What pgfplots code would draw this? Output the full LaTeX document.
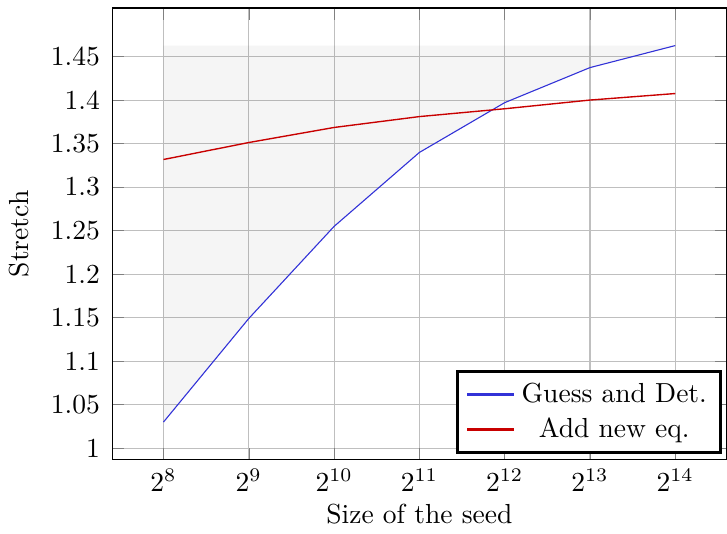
\documentclass[border=0pt]{standalone}
\usepackage{pgfplots}
\pgfplotsset{compat=1.18}
\definecolor{myblue}{RGB}{50,50,215}
\definecolor{myred}{RGB}{200,0,0}
\begin{document}
\begin{tikzpicture}
\begin{axis}[
  scale only axis,
  width=223pt, height=164pt,
  xmin=7.4, xmax=14.6,
  ymin=0.9868, ymax=1.5058,
  xtick={8,9,10,11,12,13,14},
  xticklabels={$2^{8}$,$2^{9}$,$2^{10}$,$2^{11}$,$2^{12}$,$2^{13}$,$2^{14}$},
  ytick={1,1.05,1.1,1.15,1.2,1.25,1.3,1.35,1.4,1.45},
  yticklabels={1,1.05,1.1,1.15,1.2,1.25,1.3,1.35,1.4,1.45},
  yticklabel style={xshift=-1pt},
  grid=major,
  xlabel={Size of the seed},
  xlabel style={yshift=2.5pt},
  ylabel={Stretch},
  ylabel style={yshift=1pt},
  legend cell align=center,
  legend style={at={(0.993,0.013)}, anchor=south east, draw=black, line width=1.1pt, font=\normalsize},
]
\addplot[draw=none, fill=black, fill opacity=0.04, forget plot] coordinates {
(8,1.4626) (14,1.4626) (14,1.4626) (13,1.4373) (12,1.397) (11,1.3398) (10,1.2548) (9,1.149) (8,1.030)} -- cycle;
\addplot[myblue, line width=0.4pt, legend image post style={line width=1.2pt}] coordinates {
(8,1.030) (9,1.149) (10,1.2548) (11,1.3398) (12,1.397) (13,1.4373) (14,1.4626)};
\addlegendentry{Guess and Det.}
\addplot[myred, line width=0.5pt, legend image post style={line width=1.2pt}] coordinates {
(8,1.3317) (9,1.3512) (10,1.3685) (11,1.381) (12,1.390) (13,1.400) (14,1.4075)};
\addlegendentry{Add new eq.}
\end{axis}
\path ([yshift=2.9pt]current axis.north);
\end{tikzpicture}
\end{document}
